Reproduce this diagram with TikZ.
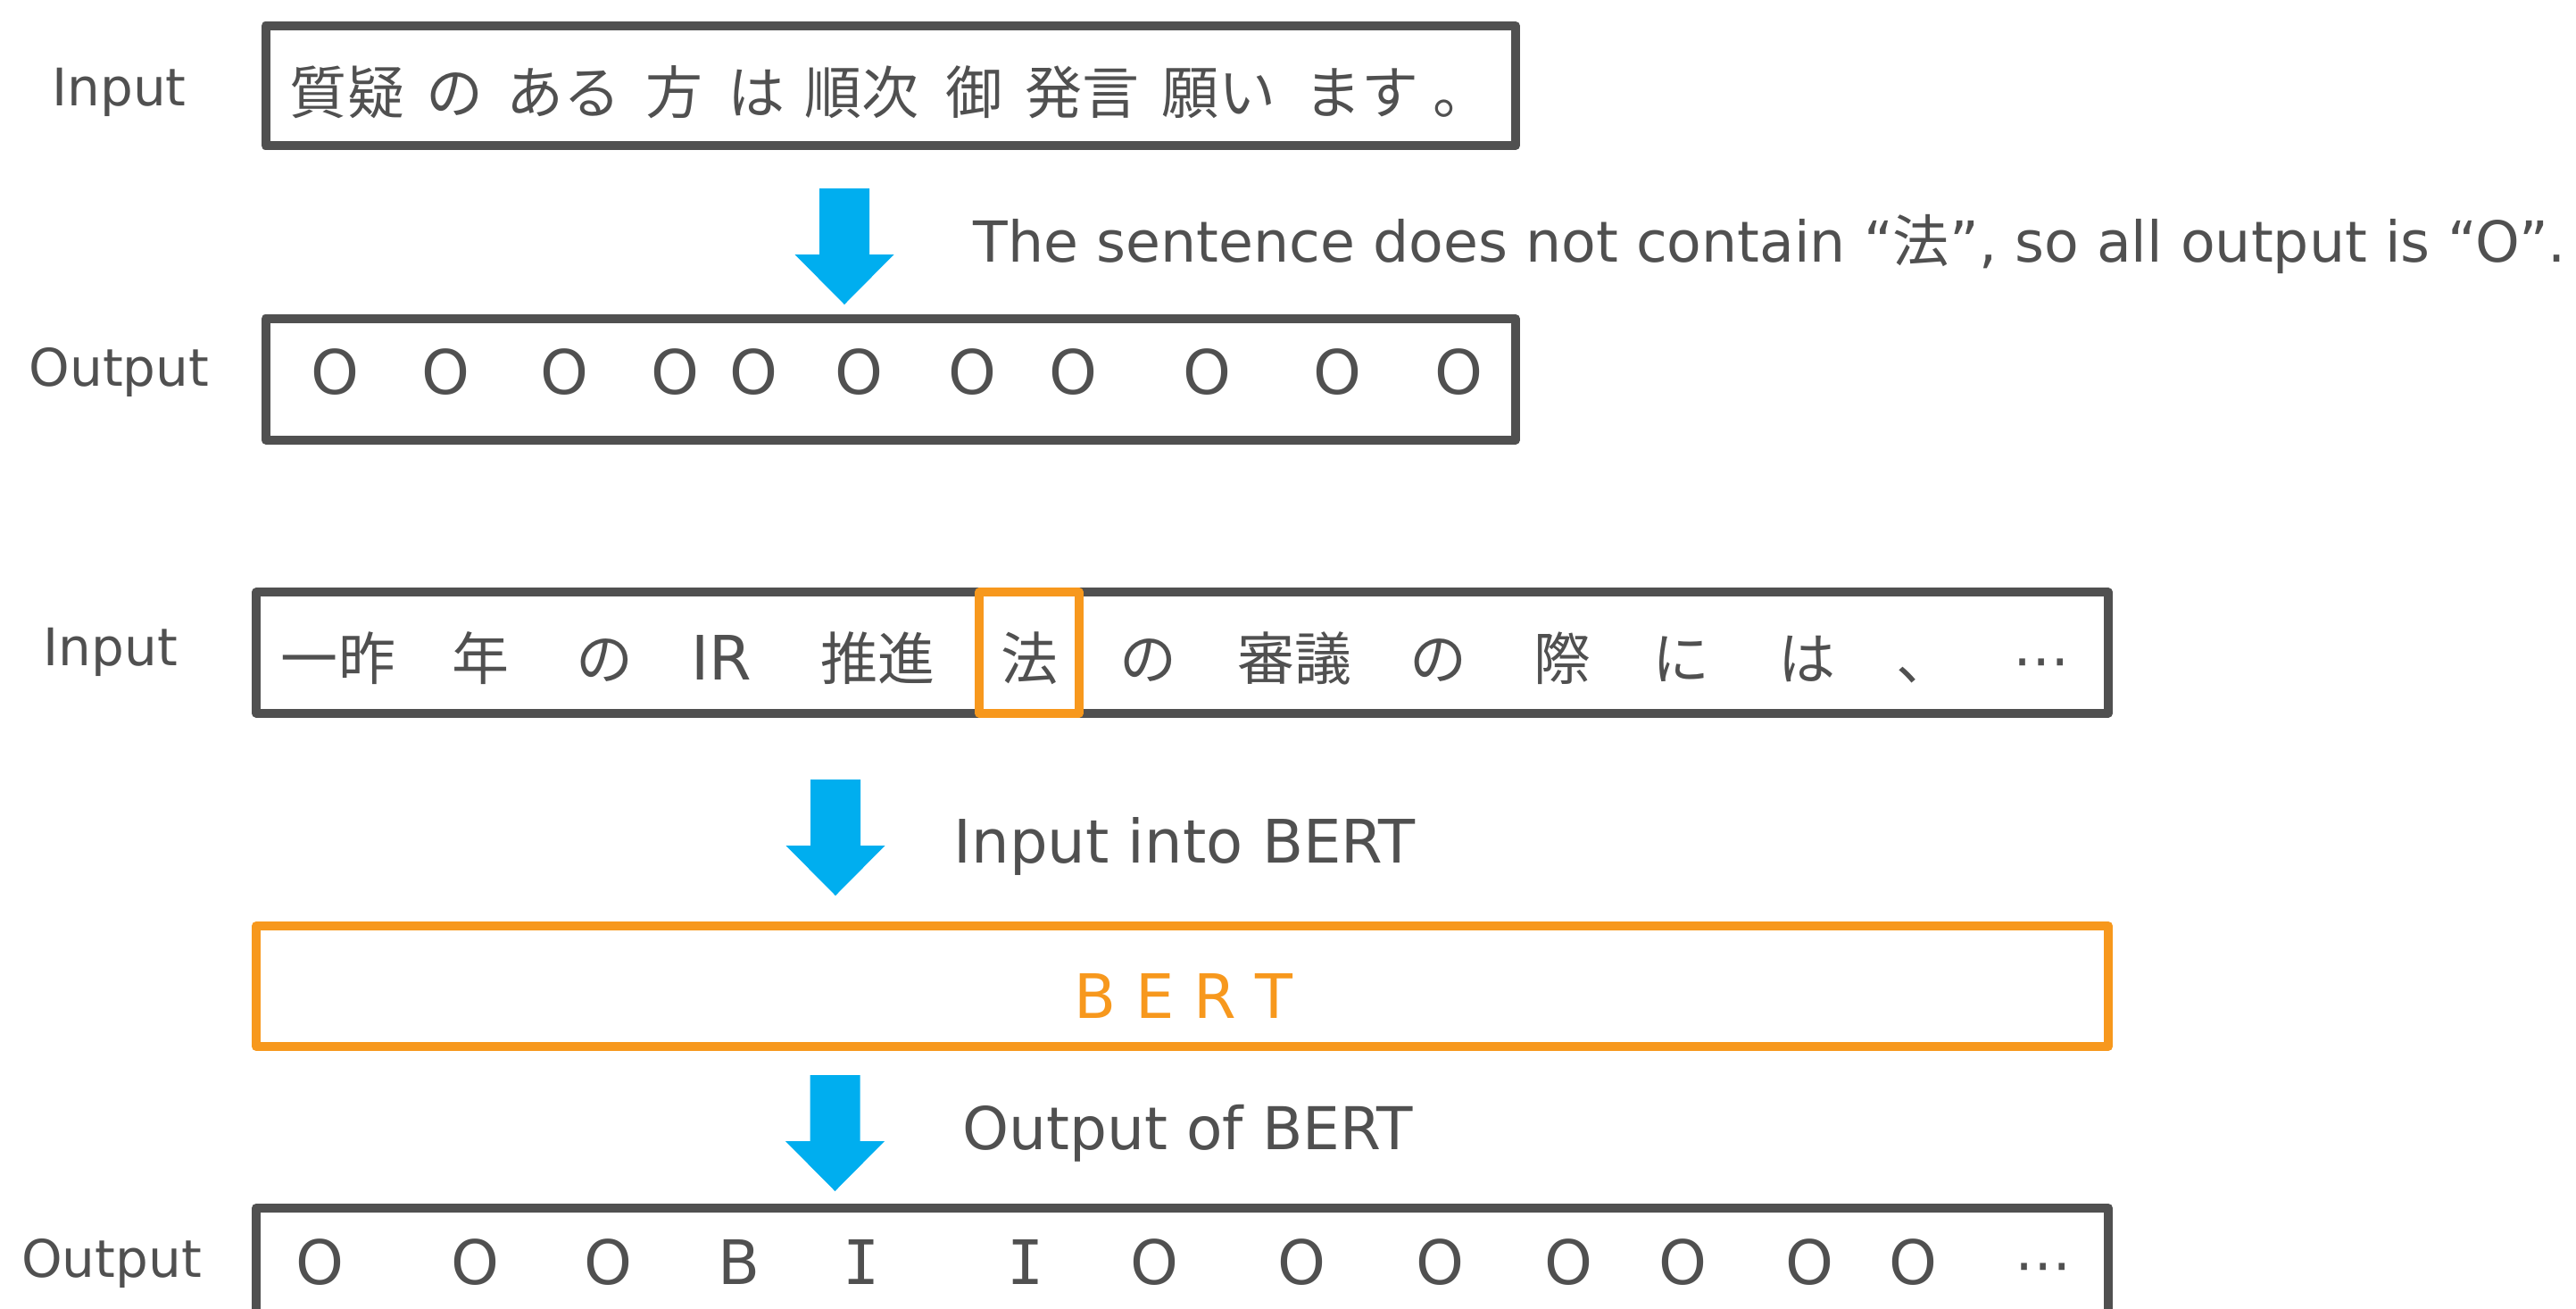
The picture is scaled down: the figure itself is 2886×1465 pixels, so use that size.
\documentclass[tikz,border=0pt]{standalone}
\usepackage{fontspec}
\setmainfont{DejaVu Sans}
\setmonofont{DejaVu Sans Mono}
\newfontfamily\jpfont{Noto Sans CJK JP}
\definecolor{txtgray}{HTML}{505050}
\definecolor{bertorange}{HTML}{F7981D}
\definecolor{arrowblue}{HTML}{00AEEF}
\newcommand\bluearrow[2]{%
  \fill[arrowblue] (#1-28,#2) -- (#1+28,#2) -- (#1+28,#2+74) -- (#1+55.5,#2+74)
    -- (#1,#2+130) -- (#1-55.5,#2+74) -- (#1-28,#2+74) -- cycle;}
\begin{document}
\begin{tikzpicture}[x=0.01cm,y=-0.01cm,
  box/.style={draw=txtgray, line width=0.1cm, line join=round, inner sep=0, fill=none},
  obox/.style={draw=bertorange, line width=0.1cm, line join=round, inner sep=0},
  lbl/.style={font=\fontsize{16.5}{18}\selectfont, text=txtgray, anchor=base, inner sep=0},
  jtok/.style={font=\jpfont\fontsize{18.2}{20}\selectfont, text=txtgray, anchor=base, inner sep=0},
  ltok/.style={font=\fontsize{19.5}{21}\selectfont, text=txtgray, anchor=base, inner sep=0},
  anno/.style={font=\fontsize{18}{21}\selectfont, text=txtgray, anchor=base west, inner sep=0}]
\useasboundingbox (0,0) rectangle (2886,1465);
\clip (0,0) rectangle (2886,1465);

% ---------- first example ----------
\node[lbl] (lin1) at (133.5,118) {Input};
\node[box, minimum width=13.995cm, minimum height=1.34cm] (in1) at (997.75,96) {};
\foreach \t/\x [count=\i] in {質疑/389, の/509.5, ある/631.5, 方/755.5, は/847, 順次/965, 御/1091, 発言/1212.5, 願い/1365, ます/1525.5, 。/1637}
  \node[jtok] (a\i) at (\x,127) {\t};

\bluearrow{946}{211}
\node[anno] (note) at (1090,293) {The sentence does not contain “{\jpfont 法}”, so all output is “O”.};

\node[lbl] (lout1) at (133.5,432) {Output};
\node[box, minimum width=13.995cm, minimum height=1.355cm] (out1) at (997.75,424.75) {};
\foreach \x [count=\i] in {375,499,632,756,844,962,1089,1202,1352,1498,1634}
  \node[ltok] (o\i) at (\x,441) {O};

% ---------- second example ----------
\node[lbl] (lin2) at (124,745) {Input};
\node[box, minimum width=20.74cm, minimum height=1.35cm] (in2) at (1324.5,731) {};
\node[obox, minimum width=1.12cm, minimum height=1.35cm] (hou) at (1153,731) {};
\foreach \t/\x [count=\i] in {一昨/379, 年/538, の/677, 推進/983, 法/1153, の/1286, 審議/1450, の/1611, 際/1750, に/1883, は/2024, 、/2156}
  \node[jtok] (b\i) at (\x,761) {\t};
\node[ltok] (ir) at (808,761) {IR};
\node[ltok, font=\fontsize{18}{20}\selectfont] (bdots) at (2287,761) {⋯};

\bluearrow{936}{873}
\node[anno, font=\fontsize{19.1}{21}\selectfont] (into) at (1068,966) {Input into BERT};

\node[obox, minimum width=20.74cm, minimum height=1.35cm] (bert) at (1324.5,1104.5) {};
\node[ltok, text=bertorange] (bertl) at (1326,1140) {B E R T};

\bluearrow{935.5}{1204}
\node[anno, font=\fontsize{18.8}{21}\selectfont] (outof) at (1078,1287) {Output of BERT};

\node[lbl] (lout2) at (125,1430) {Output};
\node[box, minimum width=20.74cm, minimum height=1.35cm] (out2) at (1324.5,1420.5) {};
\foreach \t/\x [count=\i] in {O/358, O/532, O/681, B/828, O/1293, O/1458, O/1613, O/1757, O/1885, O/2027, O/2143}
  \node[ltok] (c\i) at (\x,1438) {\t};
\node[ltok, font=\ttfamily\fontsize{19.5}{21}\selectfont] (ci1) at (965,1438) {I};
\node[ltok, font=\ttfamily\fontsize{19.5}{21}\selectfont] (ci2) at (1149,1438) {I};
\node[ltok, font=\fontsize{18}{20}\selectfont] (cdots) at (2289,1438) {⋯};
\end{tikzpicture}
\end{document}
